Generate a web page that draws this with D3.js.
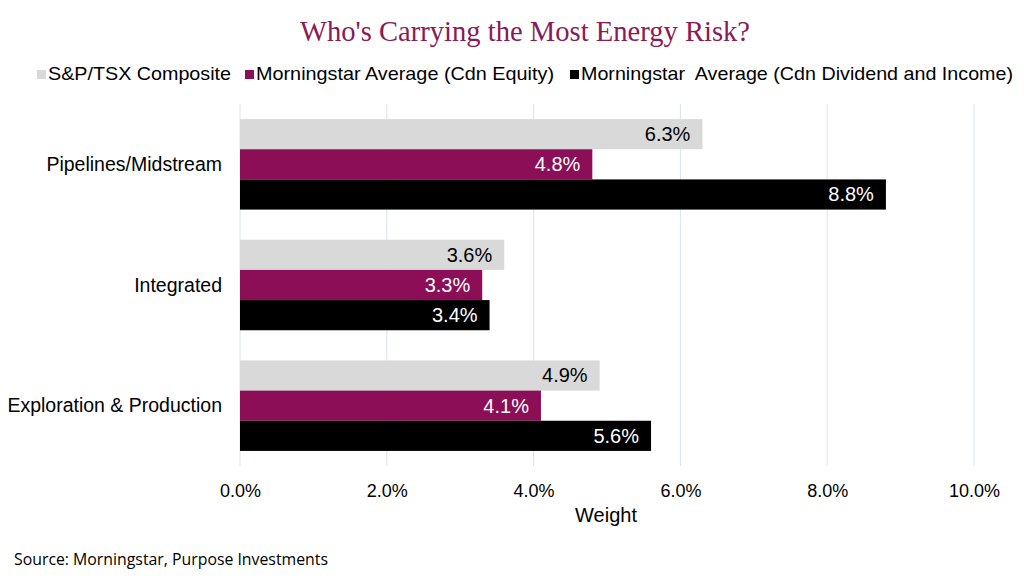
<!DOCTYPE html>
<html>
<head>
  <meta charset="utf-8">
  <title>Who's Carrying the Most Energy Risk?</title>
  <style>
    html, body { margin: 0; padding: 0; background: #fff; }
    svg { display: block; font-family: "Liberation Sans", Arial, sans-serif; }
    .title { font-family: "Liberation Serif", "DejaVu Serif", serif; fill: #8b1a55; font-size: 30px; }
    .grid line { stroke: #d9e2f3; stroke-width: 1; }
    .cat { font-size: 19.5px; fill: #000; }
    .tick-label { font-size: 18px; fill: #000; }
    .axis-title { font-size: 20px; fill: #000; }
    .val { font-size: 20px; }
    .legend text { font-size: 19px; fill: #000; white-space: pre; }
    .source { font-family: "Open Sans", sans-serif; font-size: 16px; fill: #000; }
  </style>
</head>
<body>
  <svg id="chart" width="1024" height="580"></svg>
  <script src="https://d3js.org/d3.v7.min.js"></script>
  <script>
    const categories = ["Pipelines/Midstream", "Integrated", "Exploration & Production"];
    const seriesNames = ["S&P/TSX Composite", "Morningstar Average (Cdn Equity)", "Morningstar  Average (Cdn Dividend and Income)"];
    const tsxValues = [6.3, 3.6, 4.9];
    const equityValues = [4.8, 3.3, 4.1];
    const dividendValues = [8.8, 3.4, 5.6];
    const xTicks = [0, 2, 4, 6, 8, 10];
    const colors = ["#d9d9d9", "#8b0e57", "#000000"];
    const labelColors = ["#000", "#fff", "#fff"];

    const seriesValues = [tsxValues, equityValues, dividendValues];
    const svg = d3.select("#chart");

    const x = d3.scaleLinear().domain([0, 10]).range([240, 974]);
    const y = d3.scaleBand().domain(categories).range([104, 466]).paddingInner(0.25).paddingOuter(0.125);
    const y1 = d3.scaleBand().domain(d3.range(3)).range([0, y.bandwidth()]);

    // title
    svg.append("text").attr("class", "title")
      .attr("x", 525).attr("y", 41).attr("text-anchor", "middle")
      .attr("textLength", 450).attr("lengthAdjust", "spacingAndGlyphs")
      .text("Who's Carrying the Most Energy Risk?");

    // legend (squares + labels, widths)
    const legend = svg.append("g").attr("class", "legend");
    const legendX = [37, 245, 570];
    const legendW = [183, 298, 432];
    seriesNames.forEach((name, i) => {
      const g = legend.append("g").attr("transform", `translate(${legendX[i]},80)`);
      g.append("rect").attr("x", 0).attr("y", -10).attr("width", 9).attr("height", 9).attr("fill", colors[i]);
      g.append("text").attr("x", 11).attr("y", 0)
        .attr("textLength", legendW[i]).attr("lengthAdjust", "spacingAndGlyphs")
        .text(name);
    });

    // gridlines
    svg.append("g").attr("class", "grid")
      .selectAll("line").data(xTicks).join("line")
      .attr("x1", d => x(d)).attr("x2", d => x(d))
      .attr("y1", 104).attr("y2", 466);

    // bars
    const groups = svg.append("g").selectAll("g").data(categories).join("g")
      .attr("transform", d => `translate(0,${y(d)})`);

    groups.each(function(cat, ci) {
      const g = d3.select(this);
      seriesValues.forEach((vals, si) => {
        const v = vals[ci];
        g.append("rect")
          .attr("x", x(0)).attr("y", y1(si))
          .attr("width", x(v) - x(0)).attr("height", y1.bandwidth())
          .attr("fill", colors[si]);
        g.append("text").attr("class", "val")
          .attr("x", x(v) - 12).attr("y", y1(si) + y1.bandwidth() / 2)
          .attr("dy", "0.35em").attr("text-anchor", "end")
          .attr("fill", labelColors[si])
          .text(d3.format(".1f")(v) + "%");
      });
    });

    // category labels
    svg.append("g").selectAll("text").data(categories).join("text")
      .attr("class", "cat")
      .attr("x", 222).attr("y", d => y(d) + y.bandwidth() / 2)
      .attr("dy", "0.35em").attr("text-anchor", "end")
      .text(d => d);

    // x axis labels
    const xAxis = d3.axisBottom(x).tickValues(xTicks).tickSize(0).tickPadding(0)
      .tickFormat(d => d3.format(".1f")(d) + "%");
    const ax = svg.append("g").attr("transform", "translate(0,484)").call(xAxis);
    ax.select(".domain").remove();
    ax.selectAll("text").attr("class", "tick-label").attr("font-family", null).attr("font-size", null);

    svg.append("text").attr("class", "axis-title")
      .attr("x", 606).attr("y", 522).attr("text-anchor", "middle").text("Weight");

    svg.append("text").attr("class", "source")
      .attr("x", 14).attr("y", 565)
      .attr("textLength", 314).attr("lengthAdjust", "spacingAndGlyphs")
      .text("Source: Morningstar, Purpose Investments");
  </script>
</body>
</html>
